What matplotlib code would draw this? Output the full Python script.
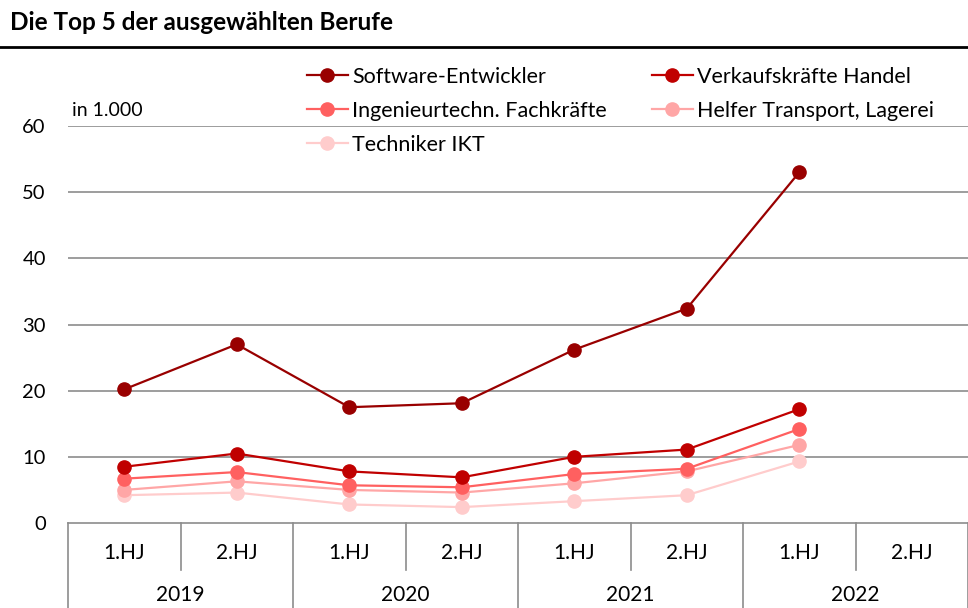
import matplotlib
matplotlib.use("Agg")
import matplotlib.pyplot as plt
from matplotlib.lines import Line2D

plt.rcParams["font.family"] = ["Lato", "DejaVu Sans"]

title = "Die Top 5 der ausgewählten Berufe"
unit_label = "in 1.000"
halves = ["1.HJ", "2.HJ", "1.HJ", "2.HJ", "1.HJ", "2.HJ", "1.HJ", "2.HJ"]
years = ["2019", "2020", "2021", "2022"]

series_names = [
    "Software-Entwickler",
    "Verkaufskräfte Handel",
    "Ingenieurtechn. Fachkräfte",
    "Helfer Transport, Lagerei",
    "Techniker IKT",
]
software = [20.2, 27.0, 17.5, 18.1, 26.2, 32.4, 53.0]
verkauf = [8.5, 10.5, 7.8, 6.9, 10.0, 11.1, 17.2]
ingenieur = [6.7, 7.7, 5.7, 5.4, 7.4, 8.2, 14.2]
helfer = [5.0, 6.3, 5.0, 4.6, 6.0, 7.8, 11.8]
techniker = [4.2, 4.6, 2.8, 2.4, 3.3, 4.2, 9.3]
series_values = [software, verkauf, ingenieur, helfer, techniker]
colors = ["#990000", "#c00000", "#ff6060", "#ffa6a6", "#ffcccc"]

W, H = 968, 608
fig = plt.figure(figsize=(W / 100, H / 100), dpi=100)
ax = fig.add_axes([68 / W, 1 - 523 / H, 1 - 68 / W, (523 - 126) / H])

# lightest first so the darker lines sit on top
handles = {}
for name, vals, col in reversed(list(zip(series_names, series_values, colors))):
    (ln,) = ax.plot(range(len(vals)), vals, color=col, lw=1.6, marker="o", ms=9.5,
                    label=name, zorder=3, clip_on=False)
    handles[name] = ln

ax.set_xlim(-0.5, len(halves) - 0.5)
ax.set_ylim(0, 60)
ax.set_yticks(range(0, 61, 10))
ax.tick_params(axis="y", length=0, pad=16, labelsize=14.5)
ax.set_xticks([])
for s in ax.spines.values():
    s.set_visible(False)
for y in range(10, 61, 10):
    ax.axhline(y, color="#8c8c8c", lw=1.2, zorder=1)
ax.axhline(0, color="#8c8c8c", lw=1.2, zorder=1, clip_on=False)

# category axis boxes below the plot
tr = ax.get_xaxis_transform()
axh = 523 - 126
short = -47 / axh
full = -(H - 523 + 5) / axh
for i in range(len(halves) + 1):
    x = i - 0.5
    y1 = full if i % 2 == 0 else short
    ax.add_line(Line2D([x, x], [0, y1], transform=tr, color="#8c8c8c",
                       lw=1.2, clip_on=False))
for i, lab in enumerate(halves):
    ax.text(i, -30 / axh, lab, transform=tr, ha="center", va="center", fontsize=15)
for j, yr in enumerate(years):
    ax.text(2 * j + 0.5, -(H - 523 - 3) / axh, yr, transform=tr, ha="center",
            va="bottom", fontsize=15)

ax.text(72 / W, 1 - 110 / H, unit_label, transform=fig.transFigure,
        ha="left", va="center", fontsize=14)

# title + rule
fig.text(10 / W, 1 - 23 / H, title, ha="left", va="center", fontsize=17.5,
         fontweight="bold")
fig.add_artist(Line2D([0, 1], [1 - 47 / H, 1 - 47 / H], transform=fig.transFigure,
                      color="black", lw=2))

# legend fills column-wise; order so that it reads row by row
order = [series_names[i] for i in (0, 2, 4, 1, 3)]
fig.legend([handles[n] for n in order], order, loc="upper left",
           bbox_to_anchor=(298 / W, 1 - 58 / H), ncol=2, frameon=False,
           fontsize=15.5, handlelength=1.9, handletextpad=0.2,
           columnspacing=2.1, labelspacing=0.66, borderaxespad=0)

fig.savefig("out.png", dpi=100)
